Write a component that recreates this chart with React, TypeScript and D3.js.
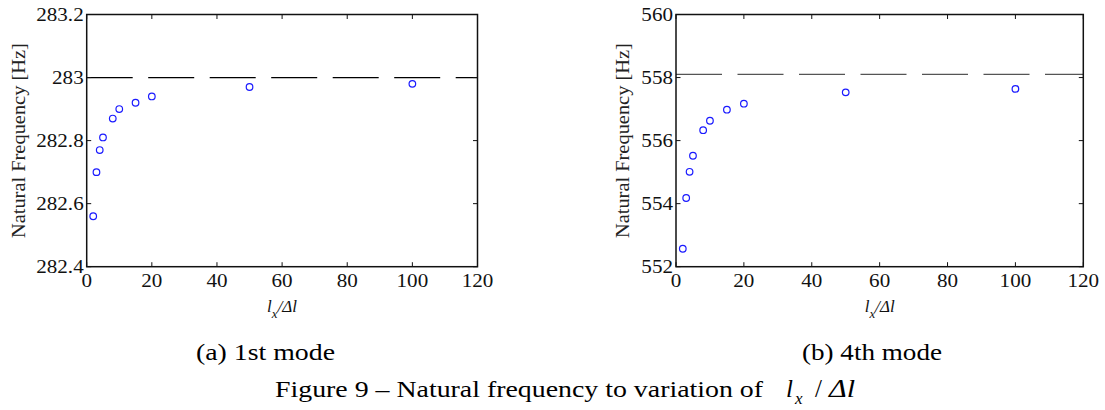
import React from "react";
import * as d3 from "d3";

const ratio = [2, 3, 4, 5, 8, 10, 15, 20, 50, 100];
const freqMode1 = [282.56, 282.7, 282.77, 282.81, 282.87, 282.9, 282.92, 282.94, 282.97, 282.98];
const freqMode4 = [552.57, 554.18, 555.01, 555.52, 556.33, 556.63, 556.98, 557.17, 557.53, 557.64];
const refMode1 = 283;
const refMode4 = 558.1;
const xTicks = [0, 20, 40, 60, 80, 100, 120];
const yTicksMode1 = [282.4, 282.6, 282.8, 283, 283.2];
const yTicksMode4 = [552, 554, 556, 558, 560];
const yTickLabels1 = ["282.4", "282.6", "282.8", "283", "283.2"];
const yTickLabels4 = ["552", "554", "556", "558", "560"];
const captions = ["(a) 1st mode", "(b) 4th mode"];
const yLabel = "Natural Frequency [Hz]";
const figureTitle = "Figure 9 – Natural frequency to variation of";

const FONT = "Liberation Serif";
const STRETCH = 1.14;
const TICK_FS = 18.5;
const fs = (size: number, extra: React.CSSProperties = {}): React.CSSProperties => ({
  fontFamily: FONT,
  fontSize: size + "px",
  ...extra,
});

// Times-metric width estimate for numeric labels (digits 0.5em, dot 0.25em)
const numWidth = (s: string, size: number) =>
  s.split("").reduce((a, c) => a + (c === "." ? 0.25 : 0.5), 0) * size;

type PanelProps = {
  x0: number; x1: number; y0: number; y1: number;
  yDomain: [number, number];
  yTicks: number[]; yLabels: string[];
  values: number[]; refVal: number; refColor: string;
  yLabelX: number; caption: string; captionX: number; captionLen: number;
};

function Panel(p: PanelProps) {
  const x = d3.scaleLinear().domain([0, 120]).range([p.x0, p.x1]);
  const y = d3.scaleLinear().domain(p.yDomain).range([p.y1, p.y0]);
  const tl = 4.5;
  const cy = (p.y0 + p.y1) / 2;
  const xl = x(60);
  return (
    <g>
      <line x1={p.x0} x2={p.x1} y1={y(p.refVal)} y2={y(p.refVal)} stroke={p.refColor} strokeWidth={1.3} strokeDasharray="46 15.5" />
      {ratio.map((r, i) => (
        <circle key={i} cx={x(r)} cy={y(p.values[i])} r={3.3} fill="none" stroke="#1a1aff" strokeWidth={1.2} />
      ))}
      {xTicks.map((t) => (
        <g key={"xt" + t}>
          <line x1={x(t)} x2={x(t)} y1={p.y1} y2={p.y1 - tl} stroke="#111" strokeWidth={1} />
          <line x1={x(t)} x2={x(t)} y1={p.y0} y2={p.y0 + tl} stroke="#111" strokeWidth={1} />
          <text x={x(t)} y={p.y1 + 20} textAnchor="middle" style={fs(TICK_FS)} fill="#111"
            textLength={numWidth(String(t), TICK_FS) * STRETCH} lengthAdjust="spacingAndGlyphs">{t}</text>
        </g>
      ))}
      {p.yTicks.map((t, i) => (
        <g key={"yt" + t}>
          <line x1={p.x0} x2={p.x0 + tl} y1={y(t)} y2={y(t)} stroke="#111" strokeWidth={1} />
          <line x1={p.x1} x2={p.x1 - tl} y1={y(t)} y2={y(t)} stroke="#111" strokeWidth={1} />
          <text x={p.x0 - 3} y={y(t)} dy="0.35em" textAnchor="end" style={fs(TICK_FS)} fill="#111"
            textLength={numWidth(p.yLabels[i], TICK_FS) * STRETCH} lengthAdjust="spacingAndGlyphs">{p.yLabels[i]}</text>
        </g>
      ))}
      <rect x={p.x0} y={p.y0} width={p.x1 - p.x0} height={p.y1 - p.y0} fill="none" stroke="#111" strokeWidth={1.5} />
      <text transform={`translate(${p.yLabelX},${cy}) rotate(-90)`} textAnchor="middle" style={fs(18)} fill="#222" textLength={195} lengthAdjust="spacingAndGlyphs">{yLabel}</text>
      <text x={xl} y={312} textAnchor="middle" style={fs(17, { fontStyle: "italic" })} fill="#111">
        <tspan>l</tspan>
        <tspan style={{ fontSize: "13px" }} dy={6}>x</tspan>
        <tspan dy={-6}>/Δl</tspan>
      </text>
      <text x={p.captionX} y={360} style={fs(24)} fill="#000" textLength={p.captionLen} lengthAdjust="spacingAndGlyphs">{p.caption}</text>
    </g>
  );
}

export default function App() {
  return (
    <svg width={1105} height={410} style={{ position: "absolute", left: 0, top: 0, background: "#fff" }}>
      <rect width={1105} height={410} fill="#fff" />
      <Panel x0={86.7} x1={477.5} y0={14.5} y1={266.7} yDomain={[282.4, 283.2]} yTicks={yTicksMode1} yLabels={yTickLabels1}
        values={freqMode1} refVal={refMode1} refColor="#000" yLabelX={25} caption={captions[0]} captionX={196} captionLen={139} />
      <Panel x0={676} x1={1083.3} y0={14.5} y1={266.7} yDomain={[552, 560]} yTicks={yTicksMode4} yLabels={yTickLabels4}
        values={freqMode4} refVal={refMode4} refColor="#555" yLabelX={629} caption={captions[1]} captionX={802} captionLen={140} />
      <text x={275} y={397} style={fs(24)} fill="#000" textLength={488} lengthAdjust="spacingAndGlyphs">{figureTitle}</text>
      <text x={786} y={397} style={fs(25, { fontStyle: "italic" })} fill="#000">l</text>
      <text x={795} y={404} style={fs(17, { fontStyle: "italic" })} fill="#000">x</text>
      <text x={815} y={397} style={fs(25)} fill="#000">/</text>
      <text x={829} y={397} style={fs(25, { fontStyle: "italic" })} fill="#000" textLength={26} lengthAdjust="spacingAndGlyphs">Δl</text>
    </svg>
  );
}
